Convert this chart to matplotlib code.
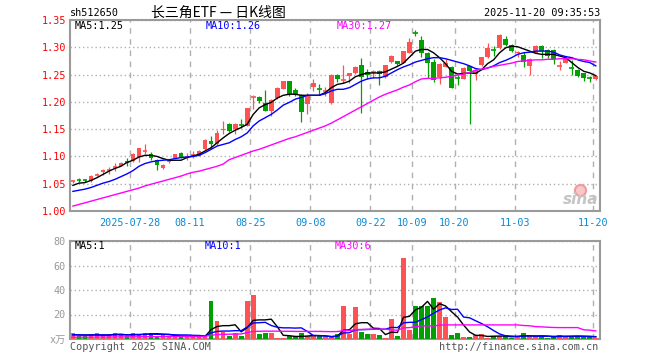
import matplotlib
matplotlib.use("Agg")
import matplotlib.pyplot as plt
from matplotlib.lines import Line2D

# ---------------- data ----------------
jul = [14, 15, 16, 17, 18, 21, 22, 23, 24, 25, 28, 29, 30, 31]
aug = [1, 4, 5, 6, 7, 8, 11, 12, 13, 14, 15, 18, 19, 20, 21, 22, 25, 26, 27, 28, 29]
sep = [1, 2, 3, 4, 5, 8, 9, 10, 11, 12, 15, 16, 17, 18, 19, 22, 23, 24, 25, 26, 29, 30]
octo = [9, 10, 13, 14, 15, 16, 17, 20, 21, 22, 23, 24, 27, 28, 29, 30, 31]
nov = [3, 4, 5, 6, 7, 10, 11, 12, 13, 14, 17, 18, 19, 20]
dates = ([f"07-{d:02d}" for d in jul] + [f"08-{d:02d}" for d in aug] +
         [f"09-{d:02d}" for d in sep] + [f"10-{d:02d}" for d in octo] +
         [f"11-{d:02d}" for d in nov])

tick_dates = ["07-28", "08-11", "08-25", "09-08", "09-22", "10-09", "10-20", "11-03", "11-20"]
tick_labels = ["2025-07-28", "08-11", "08-25", "09-08", "09-22", "10-09", "10-20", "11-03", "11-20"]

opens = [1.054, 1.058, 1.057, 1.055, 1.066, 1.072, 1.075, 1.080, 1.083, 1.091,
         1.092, 1.099, 1.109, 1.105, 1.093, 1.078, 1.092, 1.098, 1.107, 1.098,
         1.103, 1.101, 1.113, 1.129, 1.122, 1.148, 1.159, 1.151, 1.158, 1.156,
         1.209, 1.209, 1.198, 1.184, 1.207, 1.224, 1.238, 1.221, 1.212, 1.196,
         1.227, 1.224, 1.220, 1.197, 1.250, 1.240, 1.247, 1.252, 1.267, 1.255,
         1.254, 1.257, 1.245, 1.273, 1.274, 1.272, 1.290, 1.326, 1.314, 1.289,
         1.273, 1.245, 1.264, 1.264, 1.245, 1.242, 1.265, 1.251, 1.267, 1.282,
         1.295, 1.298, 1.316, 1.305, 1.289, 1.285, 1.266, 1.290, 1.303, 1.295,
         1.295, 1.266, 1.272, 1.263, 1.259, 1.252, 1.244, 1.241]
highs = [1.057, 1.060, 1.059, 1.066, 1.070, 1.077, 1.080, 1.088, 1.089, 1.098,
         1.106, 1.116, 1.122, 1.108, 1.095, 1.086, 1.096, 1.105, 1.108, 1.107,
         1.110, 1.111, 1.132, 1.137, 1.149, 1.165, 1.162, 1.161, 1.168, 1.189,
         1.213, 1.210, 1.221, 1.205, 1.227, 1.239, 1.239, 1.225, 1.215, 1.217,
         1.241, 1.232, 1.227, 1.251, 1.251, 1.268, 1.253, 1.265, 1.281, 1.260,
         1.258, 1.258, 1.268, 1.285, 1.275, 1.294, 1.317, 1.332, 1.320, 1.291,
         1.278, 1.271, 1.279, 1.265, 1.250, 1.264, 1.266, 1.260, 1.283, 1.307,
         1.302, 1.324, 1.321, 1.306, 1.293, 1.291, 1.280, 1.304, 1.304, 1.296,
         1.296, 1.275, 1.282, 1.276, 1.260, 1.253, 1.248, 1.248]
lows = [1.052, 1.054, 1.054, 1.054, 1.064, 1.066, 1.067, 1.073, 1.082, 1.083,
        1.090, 1.090, 1.104, 1.094, 1.076, 1.077, 1.088, 1.097, 1.098, 1.094,
        1.098, 1.100, 1.112, 1.116, 1.121, 1.141, 1.144, 1.141, 1.153, 1.155,
        1.186, 1.198, 1.183, 1.175, 1.206, 1.223, 1.211, 1.210, 1.163, 1.178,
        1.219, 1.214, 1.210, 1.196, 1.237, 1.235, 1.235, 1.251, 1.180, 1.242,
        1.244, 1.230, 1.244, 1.272, 1.268, 1.271, 1.289, 1.320, 1.282, 1.244,
        1.236, 1.233, 1.263, 1.225, 1.231, 1.241, 1.160, 1.240, 1.266, 1.281,
        1.284, 1.297, 1.303, 1.292, 1.283, 1.264, 1.250, 1.289, 1.280, 1.280,
        1.270, 1.258, 1.271, 1.250, 1.246, 1.238, 1.237, 1.240]
closes = [1.055, 1.057, 1.056, 1.065, 1.067, 1.075, 1.076, 1.081, 1.088, 1.090,
          1.105, 1.115, 1.110, 1.098, 1.085, 1.085, 1.093, 1.104, 1.099, 1.099,
          1.104, 1.110, 1.131, 1.122, 1.143, 1.151, 1.146, 1.160, 1.157, 1.188,
          1.210, 1.201, 1.184, 1.204, 1.226, 1.238, 1.215, 1.212, 1.181, 1.211,
          1.235, 1.223, 1.221, 1.250, 1.242, 1.241, 1.252, 1.264, 1.245, 1.250,
          1.255, 1.251, 1.267, 1.284, 1.269, 1.293, 1.309, 1.325, 1.290, 1.272,
          1.240, 1.270, 1.271, 1.226, 1.244, 1.262, 1.256, 1.259, 1.282, 1.298,
          1.294, 1.323, 1.304, 1.293, 1.292, 1.273, 1.279, 1.303, 1.293, 1.284,
          1.279, 1.267, 1.281, 1.262, 1.247, 1.243, 1.243, 1.247]

ma5 = [1.047, 1.051, 1.052, 1.056, 1.061, 1.067, 1.073, 1.078, 1.082, 1.089,
       1.093, 1.099, 1.102, 1.102, 1.100, 1.096, 1.093, 1.093, 1.093, 1.098,
       1.101, 1.104, 1.110, 1.116, 1.125, 1.134, 1.142, 1.148, 1.153, 1.159,
       1.177, 1.189, 1.195, 1.199, 1.207, 1.212, 1.214, 1.214, 1.212, 1.212,
       1.212, 1.212, 1.217, 1.226, 1.232, 1.234, 1.238, 1.246, 1.250, 1.253,
       1.253, 1.253, 1.255, 1.260, 1.265, 1.271, 1.282, 1.293, 1.296, 1.296,
       1.290, 1.281, 1.270, 1.256, 1.251, 1.252, 1.253, 1.252, 1.259, 1.270,
       1.277, 1.290, 1.299, 1.302, 1.301, 1.297, 1.293, 1.289, 1.287, 1.287,
       1.287, 1.284, 1.281, 1.272, 1.263, 1.256, 1.253, 1.248]
ma10 = [1.036, 1.038, 1.040, 1.043, 1.047, 1.051, 1.054, 1.058, 1.063, 1.068,
        1.074, 1.082, 1.087, 1.090, 1.092, 1.093, 1.094, 1.096, 1.098, 1.099,
        1.100, 1.102, 1.107, 1.113, 1.119, 1.122, 1.125, 1.131, 1.136, 1.143,
        1.156, 1.165, 1.171, 1.177, 1.185, 1.194, 1.199, 1.205, 1.208, 1.212,
        1.212, 1.212, 1.215, 1.220, 1.223, 1.223, 1.226, 1.232, 1.238, 1.242,
        1.244, 1.244, 1.247, 1.253, 1.259, 1.264, 1.268, 1.273, 1.276, 1.279,
        1.281, 1.281, 1.279, 1.276, 1.273, 1.270, 1.266, 1.261, 1.259, 1.262,
        1.266, 1.272, 1.276, 1.281, 1.287, 1.290, 1.291, 1.293, 1.293, 1.293,
        1.291, 1.286, 1.283, 1.281, 1.277, 1.274, 1.272, 1.266]
ma30 = [1.009, 1.012, 1.015, 1.018, 1.021, 1.024, 1.027, 1.030, 1.033, 1.036,
        1.039, 1.042, 1.046, 1.049, 1.052, 1.055, 1.058, 1.061, 1.064, 1.068,
        1.071, 1.073, 1.076, 1.079, 1.082, 1.086, 1.094, 1.098, 1.102, 1.106,
        1.110, 1.113, 1.117, 1.121, 1.125, 1.129, 1.133, 1.136, 1.140, 1.144,
        1.148, 1.152, 1.156, 1.161, 1.167, 1.173, 1.179, 1.185, 1.191, 1.197,
        1.203, 1.209, 1.214, 1.218, 1.222, 1.227, 1.231, 1.237, 1.242, 1.243,
        1.243, 1.244, 1.245, 1.247, 1.249, 1.251, 1.254, 1.258, 1.260, 1.262,
        1.265, 1.267, 1.269, 1.271, 1.274, 1.275, 1.276, 1.277, 1.277, 1.278,
        1.278, 1.279, 1.279, 1.279, 1.278, 1.277, 1.275, 1.273]

volumes = [4.8, 2.1, 2.1, 3.2, 4.8, 3.2, 3.2, 4.8, 3.7, 2.1,
           4.8, 3.2, 5.3, 5.3, 2.7, 3.2, 2.1, 1.3, 2.7, 2.1,
           2.1, 2.1, 1.3, 30.7, 14.7, 5.9, 2.1, 4.5, 2.1, 31.2,
           36.0, 4.0, 4.8, 4.8, 0.8, 0.8, 2.1, 2.1, 4.8, 2.1,
           2.7, 2.1, 1.3, 1.3, 4.0, 26.7, 4.0, 25.9, 5.9, 4.0,
           4.0, 3.2, 0.8, 16.0, 2.7, 65.9, 7.2, 27.2, 26.7, 26.7,
           33.6, 29.9, 17.9, 3.2, 4.8, 1.3, 1.3, 3.2, 4.0, 0.8,
           2.1, 2.1, 3.2, 0.8, 2.1, 4.8, 2.1, 2.1, 2.1, 0.8,
           2.1, 3.2, 2.1, 2.1, 2.1, 2.1, 2.1, 0.8]
vma5 = [3.5, 3.3, 3.2, 3.3, 3.4, 3.1, 3.3, 3.8, 3.9, 3.4,
        3.7, 3.7, 3.8, 4.1, 4.3, 3.9, 3.7, 2.9, 2.4, 2.3,
        2.1, 2.1, 2.1, 7.7, 10.2, 10.9, 10.9, 11.6, 5.9, 9.2,
        15.2, 15.6, 15.6, 16.2, 10.1, 3.0, 2.7, 2.1, 2.1, 2.4,
        2.8, 2.8, 2.6, 1.9, 2.3, 7.1, 7.5, 12.4, 13.3, 13.3,
        8.8, 8.6, 3.6, 5.6, 5.3, 17.7, 18.5, 23.8, 25.9, 30.7,
        24.3, 28.8, 27.0, 22.3, 17.9, 11.4, 5.7, 3.0, 2.9, 2.1,
        2.3, 2.4, 2.4, 1.8, 2.1, 2.6, 2.6, 2.4, 2.6, 2.4,
        1.8, 2.1, 2.1, 2.1, 2.3, 2.3, 2.1, 1.8]
vma10 = [3.5, 3.4, 3.3, 3.3, 3.4, 3.4, 3.3, 3.4, 3.4, 3.4,
         3.4, 3.5, 3.8, 4.0, 3.8, 3.8, 3.7, 3.4, 3.3, 3.3,
         3.0, 2.9, 2.5, 5.0, 6.2, 6.5, 6.5, 6.8, 6.8, 9.7,
         13.1, 13.3, 13.6, 11.0, 9.6, 9.1, 9.1, 8.9, 9.1, 6.2,
         2.9, 2.7, 2.4, 2.0, 2.3, 4.9, 5.1, 7.5, 7.6, 7.8,
         7.9, 8.0, 8.0, 9.5, 9.3, 13.2, 13.6, 13.7, 15.8, 18.0,
         21.0, 23.7, 25.4, 24.1, 24.3, 17.9, 17.3, 14.9, 12.6, 10.0,
         6.9, 4.1, 2.6, 2.4, 2.1, 2.4, 2.5, 2.4, 2.2, 2.2,
         2.2, 2.3, 2.2, 2.35, 2.35, 2.1, 2.1, 1.95]
vma30 = [1.5, 1.5, 1.5, 1.5, 1.6, 1.6, 1.6, 1.7, 1.7, 1.7,
         1.8, 1.8, 1.9, 1.9, 1.9, 2.0, 2.0, 2.0, 2.0, 2.0,
         2.1, 2.1, 2.1, 3.1, 3.6, 3.8, 3.9, 4.0, 4.1, 5.2,
         6.2, 6.3, 6.4, 6.4, 6.4, 6.3, 6.3, 6.2, 6.2, 6.2,
         6.2, 6.2, 6.1, 6.0, 6.1, 6.8, 6.9, 7.7, 7.8, 7.9,
         8.0, 8.0, 8.0, 7.5, 7.1, 9.1, 9.3, 10.0, 10.8, 10.7,
         10.6, 11.3, 11.5, 11.5, 11.5, 11.5, 11.5, 11.5, 11.5, 11.5,
         11.5, 11.5, 11.5, 11.5, 11.5, 11.0, 10.8, 10.1, 9.9, 9.6,
         9.4, 9.3, 9.3, 9.3, 9.3, 7.5, 7.2, 6.6]

price_ticks = [1.00, 1.05, 1.10, 1.15, 1.20, 1.25, 1.30, 1.35]
vol_ticks = [0, 20, 40, 60, 80]
vol_tick_labels = ["x万", "20", "40", "60", "80"]

# ---------------- style ----------------
plt.rcParams['font.family'] = ['DejaVu Sans Mono', 'Noto Sans CJK SC']
RED = '#ff5353'
GREEN = '#00a000'
GRID = '#b0b0b0'
BORDER = '#9a9a9a'
BLUE_T = '#0a8ad6'
FS = 7.3

W, H = 660, 360
fig = plt.figure(figsize=(6.6, 3.6), dpi=100)
fig.patch.set_facecolor('white')


def fx(x):
    return x / W


def fy(y):
    return 1 - y / H


ax = fig.add_axes([fx(70), fy(211), fx(600) - fx(70), fy(20) - fy(211)])
axv = fig.add_axes([fx(70), fy(339), fx(600) - fx(70), fy(241) - fy(339)])

n = len(closes)
xs = list(range(n))
XL = (-0.48, 87.7)
tick_pos = [dates.index(d) - 0.5 for d in tick_dates]

for a in (ax, axv):
    a.set_xlim(*XL)
    a.set_facecolor('white')
    for s in a.spines.values():
        s.set_color(BORDER)
        s.set_linewidth(1.5)
    a.set_axisbelow(True)
    a.set_xticks(tick_pos)
    a.xaxis.grid(True, linestyle=(0, (4, 4)), color=GRID, linewidth=1)

# price panel
ax.set_ylim(1.00, 1.35)
ax.set_yticks(price_ticks)
ax.set_yticklabels([f"{t:.2f}" for t in price_ticks])
ax.yaxis.grid(True, linestyle=(0, (1, 2)), color=GRID, linewidth=1)
ax.tick_params(axis='y', length=0, pad=3, labelcolor='#ff0000', labelsize=FS)
ax.set_xticklabels(tick_labels)
ax.tick_params(axis='x', length=0, pad=5, labelcolor=BLUE_T, labelsize=FS)

bw = 0.78
for i in xs:
    o, h, l, c = opens[i], highs[i], lows[i], closes[i]
    col = RED if c >= o else GREEN
    ax.vlines(i, l, h, color=col, linewidth=0.9, zorder=3)
    if abs(c - o) <= 0.0015:
        ax.hlines((o + c) / 2, i - bw / 2, i + bw / 2, color=col, linewidth=1.2, zorder=3)
    else:
        ax.bar(i, abs(c - o), bottom=min(o, c), width=bw, color=col,
               linewidth=0, zorder=3, antialiased=False)

ax.plot(xs, ma5, color='black', linewidth=1.0, zorder=4)
ax.plot(xs, ma10, color='#0000ff', linewidth=1.0, zorder=4)
ax.plot(xs, ma30, color='#ff00ff', linewidth=1.0, zorder=4)

# volume panel
axv.set_ylim(0, 80)
axv.set_yticks(vol_ticks)
axv.set_yticklabels(vol_tick_labels)
axv.yaxis.grid(True, linestyle=(0, (1, 2)), color=GRID, linewidth=1)
axv.tick_params(axis='y', length=0, pad=3, labelcolor='#999999', labelsize=FS)
axv.tick_params(axis='x', length=0, labelbottom=False)

vcols = [RED if closes[i] >= opens[i] else GREEN for i in xs]
axv.bar(xs, volumes, width=bw, color=vcols, linewidth=0, zorder=3, antialiased=False)
axv.plot(xs, vma5, color='black', linewidth=1.0, zorder=4)
axv.plot(xs, vma10, color='#0000ff', linewidth=1.0, zorder=4)
axv.plot(xs, vma30, color='#ff00ff', linewidth=1.0, zorder=4)

# ---------------- texts ----------------
fig.text(fx(70), fy(13), "sh512650", fontsize=FS, color='black', ha='left', va='center')
fig.text(fx(218), fy(13), "长三角ETF — 日K线图", fontsize=10, color='black',
         ha='center', va='center', family=['Noto Sans CJK SC', 'DejaVu Sans'])
fig.text(fx(600), fy(13), "2025-11-20 09:35:53", fontsize=FS, color='black', ha='right', va='center')

fig.text(fx(75), fy(26), "MA5:1.25", fontsize=FS, color='black', ha='left', va='center')
fig.text(fx(206), fy(26), "MA10:1.26", fontsize=FS, color='#0000ff', ha='left', va='center')
fig.text(fx(337), fy(26), "MA30:1.27", fontsize=FS, color='#ff00ff', ha='left', va='center')

fig.text(fx(75), fy(246), "MA5:1", fontsize=FS, color='black', ha='left', va='center')
fig.text(fx(205), fy(246), "MA10:1", fontsize=FS, color='#0000ff', ha='left', va='center')
fig.text(fx(335), fy(246), "MA30:6", fontsize=FS, color='#ff00ff', ha='left', va='center')

fig.text(fx(70), fy(347), "Copyright 2025 SINA.COM", fontsize=FS, color='#555555', ha='left', va='center')
fig.text(fx(598), fy(347), "http://finance.sina.com.cn", fontsize=FS, color='#555555', ha='right', va='center')

# sina watermark
fig.add_artist(Line2D([fx(580)], [fy(190)], marker='o', markersize=8, markerfacecolor='#f8c8c8',
                      markeredgecolor='#f09a9a', markeredgewidth=1.5, transform=fig.transFigure))
fig.text(fx(581), fy(200), "sina", fontsize=11, color='#c4c4c4', ha='center', va='center',
         fontweight='bold', fontstyle='italic', family=['DejaVu Sans'])

fig.savefig("out.png", dpi=100, facecolor='white')
